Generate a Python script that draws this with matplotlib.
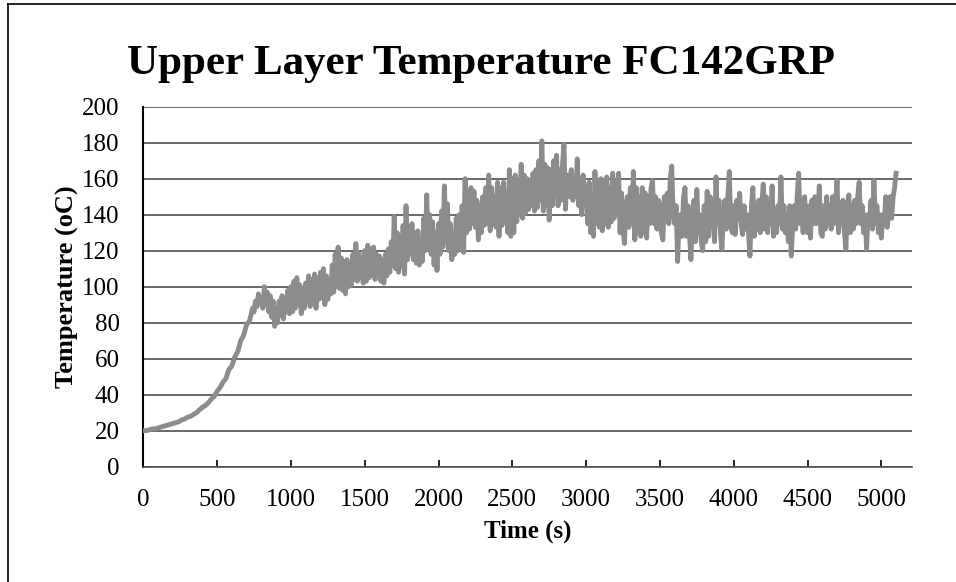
import numpy as np
import matplotlib.pyplot as plt
from matplotlib.lines import Line2D

# smooth heating phase, one reading every 20 s (0 .. 740 s)
time_early = np.arange(0, 741, 20)
temp_early = [
    20, 20, 20.5, 21, 21, 21.5, 22, 22.5, 23, 23.5,
    24, 24.5, 25, 26, 26.5, 27.5, 28, 29, 30, 31.5,
    33, 34, 35.5, 37.5, 39, 42, 44, 47, 49, 54,
    56, 61, 64, 70, 73, 79, 81, 88,
]

# noisy phase, one reading every 10 s (750 .. 5100 s)
time_late = np.arange(750, 5101, 10)
temp_late = [
    86, 92, 89, 96, 91,
    94, 88, 100, 90, 97, 86, 95, 83, 92, 78,
    88, 80, 92, 84, 95, 82, 94, 86, 98, 85,
    100, 86, 103, 88, 105, 90, 101, 85, 99, 88,
    102, 92, 106, 89, 104, 91, 107, 88, 105, 93,
    108, 94, 110, 90, 106, 93, 104, 96, 112, 97,
    118, 100, 122, 99, 116, 98, 114, 96, 115, 100,
    112, 101, 118, 104, 124, 103, 119, 105, 116, 102,
    120, 103, 123, 105, 121, 107, 122, 104, 118, 108,
    117, 103, 115, 102, 118, 106, 121, 108, 125, 112,
    139, 110, 130, 108, 128, 111, 134, 107, 145, 115,
    132, 118, 135, 115, 130, 113, 131, 112, 126, 114,
    138, 120, 151, 122, 140, 118, 136, 112, 130, 109,
    135, 118, 142, 122, 156, 125, 146, 120, 135, 115,
    130, 118, 138, 120, 140, 122, 145, 119, 160, 130,
    152, 132, 155, 135, 153, 133, 148, 126, 145, 130,
    150, 134, 155, 135, 162, 131, 155, 135, 150, 133,
    158, 128, 155, 134, 158, 136, 152, 130, 165, 128,
    160, 130, 162, 136, 158, 140, 168, 138, 162, 141,
    160, 143, 158, 145, 163, 142, 165, 144, 170, 148,
    181, 142, 168, 145, 166, 137, 165, 145, 170, 150,
    173, 145, 165, 148, 168, 179, 143, 162, 150, 160,
    165, 148, 160, 150, 171, 145, 160, 140, 162, 145,
    155, 135, 158, 130, 150, 128, 164, 135, 158, 133,
    160, 131, 158, 135, 161, 133, 155, 136, 163, 138,
    158, 140, 163, 130, 152, 132, 124, 145, 150, 133,
    155, 135, 164, 126, 155, 130, 150, 128, 155, 130,
    152, 127, 150, 135, 155, 159, 135, 150, 132, 148,
    145, 130, 126, 150, 138, 152, 135, 160, 167, 140,
    135, 145, 114, 138, 140, 128, 150, 155, 128, 145,
    130, 115, 140, 148, 125, 154, 130, 140, 125, 120,
    145, 125, 153, 128, 150, 135, 140, 125, 161, 135,
    148, 130, 121, 140, 148, 132, 150, 164, 135, 130,
    145, 129, 148, 138, 152, 135, 129, 145, 132, 140,
    130, 117, 145, 155, 128, 145, 132, 148, 130, 145,
    157, 132, 150, 130, 148, 135, 156, 128, 140, 130,
    145, 135, 161, 132, 145, 130, 140, 125, 145, 117,
    135, 145, 132, 150, 163, 135, 148, 130, 150, 135,
    130, 145, 127, 148, 135, 150, 135, 140, 156, 130,
    128, 145, 132, 150, 135, 145, 132, 150, 135, 145,
    159, 130, 145, 135, 148, 130, 121, 145, 151, 130,
    145, 132, 148, 135, 150, 158, 135, 145, 130, 140,
    121, 140, 135, 148, 132, 159, 135, 145, 130, 140,
    127, 140, 135, 150, 133, 140, 150, 138, 150, 155,
    163,
]

time_s = np.concatenate([time_early, time_late])
temp_c = np.concatenate([temp_early, temp_late])

plt.rcParams['font.family'] = ['Liberation Serif', 'DejaVu Serif']

fig = plt.figure(figsize=(9.56, 5.82), dpi=100)
ax = fig.add_axes([0.1499, 0.1981, 0.8041, 0.6186])

ax.plot(time_s, temp_c, color='#8c8c8c', lw=3.5, solid_joinstyle='round', zorder=3)

ax.set_xlim(0, 5208)
ax.set_ylim(0, 200)
ax.set_xticks(np.arange(0, 5001, 500))
ax.set_yticks(np.arange(0, 201, 20))
ax.yaxis.grid(True, color='#505050', lw=1.2)
ax.set_axisbelow(True)

for s in ['right', 'top']:
    ax.spines[s].set_visible(False)
ax.spines['left'].set_linewidth(1.5)
ax.spines['bottom'].set_linewidth(1.2)
ax.spines['bottom'].set_color('#505050')

ax.tick_params(axis='x', direction='in', length=5, width=1.2, pad=16, labelsize=18)
ax.tick_params(axis='y', length=0, pad=17, labelsize=18)

ax.set_xlabel('Time (s)', fontsize=18, fontweight='bold', labelpad=6)
ax.set_ylabel('Temperature (oC)', fontsize=19, fontweight='bold')
ax.yaxis.set_label_coords(-0.084, 0.5)
fig.text(0.503, 0.89, 'Upper Layer Temperature FC142GRP', fontsize=31,
         fontweight='bold', ha='center', va='center')

# frame around the chart area (only top and left are in the picture)
fig.add_artist(Line2D([8 / 956, 8 / 956], [0, 1 - 4 / 582], color='black', lw=1.2))
fig.add_artist(Line2D([8 / 956, 1], [1 - 4 / 582, 1 - 4 / 582], color='black', lw=1.2))

fig.savefig('out.png', dpi=100)
